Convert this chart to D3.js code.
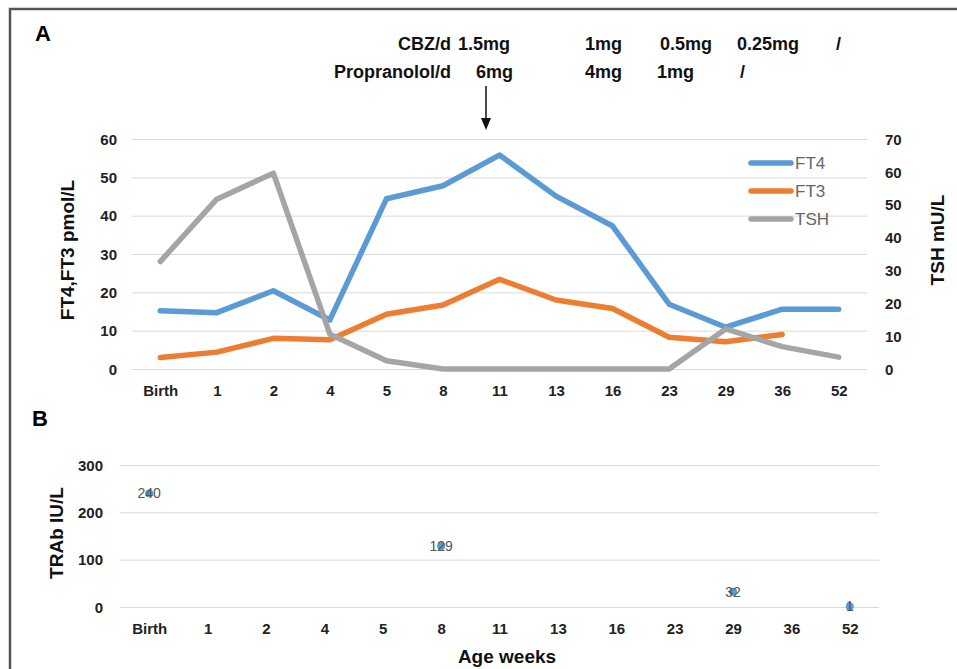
<!DOCTYPE html>
<html>
<head>
<meta charset="utf-8">
<script src="https://d3js.org/d3.v7.min.js"></script>
<style>
    body { margin: 0; background: #fff; }
    svg { font-family: 'Liberation Sans', Arial, sans-serif; }
    .axis path { display: none; }
    .axis line { stroke: #d9d9d9; }
    .axis text { font-size: 15px; font-weight: bold; fill: #222; }
    .title { font-size: 19px; font-weight: bold; fill: #111; }
    .note { font-size: 18px; font-weight: bold; fill: #111; }
    .legend { font-size: 17px; fill: #666; }
    .lbl { font-size: 14px; fill: #555; }
</style>
</head>
<body>
<script>
// age in weeks (category axis)
var weeks = ["Birth", "1", "2", "4", "5", "8", "11", "13", "16", "23", "29", "36", "52"];

// panel A values
var ft4 = [15.2, 14.7, 20.4, 12.8, 44.4, 47.8, 55.8, 45.1, 37.3, 16.9, 10.9, 15.6, 15.6];
var ft3 = [3.0, 4.4, 8.0, 7.6, 14.3, 16.7, 23.4, 18.0, 15.8, 8.3, 7.1, 9.0, null];
var tsh = [32.7, 51.7, 59.6, 10.6, 2.5, 0, 0, 0, 0, 0, 12.2, 6.8, 3.6];
var leftTicks = [0, 10, 20, 30, 40, 50, 60];
var rightTicks = [0, 10, 20, 30, 40, 50, 60, 70];

// panel B values (TRAb)
var trabWeeks = ["Birth", "8", "29", "52"];
var trab = [240, 129, 32, 1];
var trabTicks = [0, 100, 200, 300];

// dose annotations
var cbzDoses = ["1.5mg", "1mg", "0.5mg", "0.25mg", "/"];
var propDoses = ["6mg", "4mg", "1mg", "/"];

var svg = d3.select("body").append("svg")
    .attr("width", 957)
    .attr("height", 669);

// frame
svg.append("path")
    .attr("d", "M10,669 L10,9 L957,9")
    .attr("fill", "none")
    .attr("stroke", "#555")
    .attr("stroke-width", 2.5);

// ---------- Panel A ----------
var xA = d3.scalePoint().domain(weeks).range([132, 867]).padding(0.5);
var yL = d3.scaleLinear().domain([0, 60]).range([369, 139]);
var yR = d3.scaleLinear().domain([0, 70]).range([369, 139]);

svg.append("g")
    .attr("class", "axis")
    .attr("transform", "translate(132,0)")
    .call(d3.axisLeft(yL).tickValues(leftTicks).tickSize(-735).tickPadding(15))
    .selectAll("text").attr("dy", "0.35em");

svg.append("g")
    .attr("class", "axis")
    .attr("transform", "translate(867,0)")
    .call(d3.axisRight(yR).tickValues(rightTicks).tickSize(0).tickPadding(18))
    .selectAll("text").attr("dy", "0.35em");

svg.append("g")
    .attr("class", "axis")
    .attr("transform", "translate(0,369)")
    .call(d3.axisBottom(xA).tickSize(0).tickPadding(16));

svg.append("text")
    .attr("class", "title")
    .attr("transform", "translate(74,250) rotate(-90)")
    .attr("text-anchor", "middle")
    .text("FT4,FT3 pmol/L");

svg.append("text")
    .attr("class", "title")
    .attr("transform", "translate(944,240) rotate(-90)")
    .attr("text-anchor", "middle")
    .text("TSH mU/L");

var series = [
    {name: "FT4", values: ft4, y: yL, color: "#5b9bd5"},
    {name: "FT3", values: ft3, y: yL, color: "#ed7d31"},
    {name: "TSH", values: tsh, y: yR, color: "#a5a5a5"}
];

series.forEach(function(s) {
    var line = d3.line()
        .defined(function(d) { return d != null; })
        .x(function(d, i) { return xA(weeks[i]); })
        .y(function(d) { return s.y(d); });
    svg.append("path")
        .datum(s.values)
        .attr("fill", "none")
        .attr("stroke", s.color)
        .attr("stroke-width", 5.5)
        .attr("stroke-linejoin", "round")
        .attr("stroke-linecap", "round")
        .attr("d", line);
});

// legend
var legend = svg.selectAll(".leg")
    .data(series)
    .enter().append("g")
    .attr("transform", function(d, i) { return "translate(749," + (163 + i * 28) + ")"; });
legend.append("line")
    .attr("x1", 2).attr("x2", 42)
    .attr("stroke", function(d) { return d.color; })
    .attr("stroke-width", 5.5)
    .attr("stroke-linecap", "round");
legend.append("text")
    .attr("class", "legend")
    .attr("x", 46)
    .attr("dy", "0.35em")
    .text(function(d) { return d.name; });

// panel letters
svg.append("text").attr("x", 35).attr("y", 41)
    .style("font-size", "22px").style("font-weight", "bold").text("A");
svg.append("text").attr("x", 32).attr("y", 426)
    .style("font-size", "22px").style("font-weight", "bold").text("B");

// dose notes
svg.append("text").attr("class", "note").attr("x", 451).attr("y", 50)
    .attr("text-anchor", "end").text("CBZ/d");
svg.append("text").attr("class", "note").attr("x", 451).attr("y", 78)
    .attr("text-anchor", "end").text("Propranolol/d");
var cbzX = [458, 585, 660, 737, 836];
var propX = [476, 585, 657, 740];
cbzDoses.forEach(function(t, i) {
    svg.append("text").attr("class", "note").attr("x", cbzX[i]).attr("y", 50).text(t);
});
propDoses.forEach(function(t, i) {
    svg.append("text").attr("class", "note").attr("x", propX[i]).attr("y", 78).text(t);
});

// arrow
svg.append("line")
    .attr("x1", 486).attr("x2", 486)
    .attr("y1", 86).attr("y2", 120)
    .attr("stroke", "#111").attr("stroke-width", 1.5);
svg.append("path")
    .attr("d", "M481,118 L491,118 L486,130 Z")
    .attr("fill", "#111");

// ---------- Panel B ----------
var xB = d3.scalePoint().domain(weeks).range([120, 879]).padding(0.5);
var yB = d3.scaleLinear().domain([0, 300]).range([607, 465]);

svg.append("g")
    .attr("class", "axis")
    .attr("transform", "translate(120,0)")
    .call(d3.axisLeft(yB).tickValues(trabTicks).tickSize(-759).tickPadding(17))
    .selectAll("text").attr("dy", "0.35em");

svg.append("g")
    .attr("class", "axis")
    .attr("transform", "translate(0,607)")
    .call(d3.axisBottom(xB).tickSize(0).tickPadding(16));

svg.append("text")
    .attr("class", "title")
    .attr("transform", "translate(63,533) rotate(-90)")
    .attr("text-anchor", "middle")
    .text("TRAb IU/L");

svg.append("text")
    .attr("class", "title")
    .attr("x", 507).attr("y", 663)
    .attr("text-anchor", "middle")
    .text("Age weeks");

svg.selectAll(".pt")
    .data(trab)
    .enter().append("circle")
    .attr("cx", function(d, i) { return xB(trabWeeks[i]); })
    .attr("cy", function(d) { return yB(d); })
    .attr("r", 4)
    .attr("fill", "#5b9bd5");

svg.selectAll(".ptl")
    .data(trab)
    .enter().append("text")
    .attr("class", "lbl")
    .attr("x", function(d, i) { return xB(trabWeeks[i]); })
    .attr("y", function(d) { return yB(d); })
    .attr("dy", "0.35em")
    .attr("text-anchor", "middle")
    .text(function(d) { return d; });
</script>
</body>
</html>
